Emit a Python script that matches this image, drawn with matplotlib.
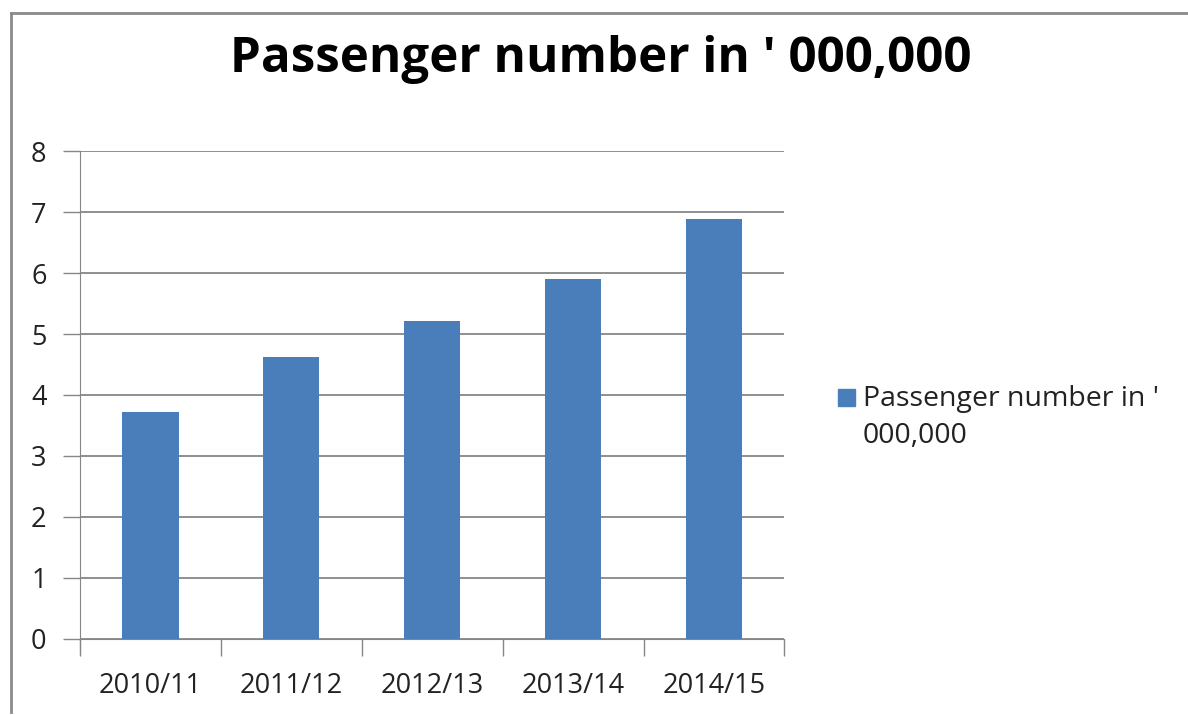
"""
Passenger numbers bar chart (Excel style)
"""
import matplotlib
matplotlib.use("Agg")
from matplotlib import pyplot as plt
from matplotlib.patches import Rectangle
from matplotlib.lines import Line2D

years = ['2010/11', '2011/12', '2012/13', '2013/14', '2014/15']
passengers = [3.72, 4.62, 5.22, 5.91, 6.89]
series_name = "Passenger number in ' 000,000"

BAR_BLUE = '#4a7ebb'
GRID_GRAY = '#868686'
TEXT = '#222222'

plt.rcParams['font.family'] = ['Open Sans', 'DejaVu Sans']

fig = plt.figure(figsize=(11.88, 7.15), dpi=100)
ax = fig.add_axes([0.0673, 0.1069, 0.593, 0.6815])

x = list(range(len(years)))
ax.bar(x, passengers, width=0.4, color=BAR_BLUE, zorder=3)

ax.set_xlim(-0.5, len(years) - 0.5)
ax.set_ylim(0, 8)
ax.set_yticks(range(0, 9))
ax.grid(axis='y', color=GRID_GRAY, linewidth=1.3, zorder=0)

# category ticks sit between the bars
ax.set_xticks([i - 0.5 for i in range(len(years) + 1)])
ax.set_xticklabels([])
ax.set_xticks(x, minor=True)
ax.set_xticklabels(years, minor=True)
ax.tick_params(axis='x', which='major', length=12, width=1, color=GRID_GRAY, direction='out')
ax.tick_params(axis='x', which='minor', length=0, pad=24, labelsize=19.5, labelcolor=TEXT)
ax.tick_params(axis='y', length=12, width=1, color=GRID_GRAY, labelsize=19.5,
               labelcolor=TEXT, pad=12)

for side in ['top', 'right']:
    ax.spines[side].set_visible(False)
ax.spines['left'].set_color(GRID_GRAY)
ax.spines['bottom'].set_color(GRID_GRAY)
ax.spines['left'].set_bounds(-0.18, 8)

fig.text(0.506, 0.917, series_name, ha='center', va='center',
         fontsize=35.5, fontweight='bold', color='black')

# legend drawn by hand so the swatch lines up with the first text line
fig.patches.append(Rectangle((838 / 1188, 1 - 406 / 715), 17 / 1188, 17 / 715,
                             transform=fig.transFigure, color=BAR_BLUE))
fig.text(863 / 1188, 1 - 385 / 715, "Passenger number in '\n000,000",
         ha='left', va='top', fontsize=20.5, color=TEXT, linespacing=1.45)

# chart frame, only top and left edges visible
fig.add_artist(Line2D([11 / 1188, 1], [1 - 13 / 715, 1 - 13 / 715],
                      transform=fig.transFigure, color='#8a8a8a', linewidth=2))
fig.add_artist(Line2D([11 / 1188, 11 / 1188], [1 - 13 / 715, 1 - 712 / 715],
                      transform=fig.transFigure, color='#8a8a8a', linewidth=2))

fig.savefig('out.png', dpi=100, facecolor='white')
